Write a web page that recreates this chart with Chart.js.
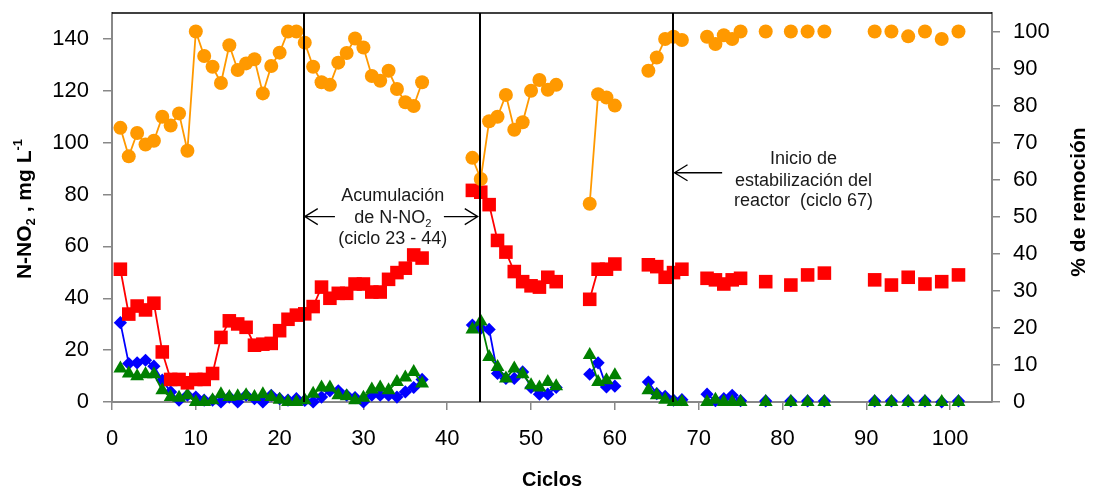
<!DOCTYPE html>
<html>
<head>
<meta charset="utf-8">
<script src="https://cdn.jsdelivr.net/npm/chart.js@4.4.1/dist/chart.umd.min.js"></script>
<style>
  html, body { margin: 0; padding: 0; background: #fff; }
  #wrap { width: 1096px; height: 492px; }
</style>
</head>
<body>
<div id="wrap"><canvas id="chart"></canvas></div>
<script>
// Ciclos con medición (los huecos cortan las líneas)
const ciclos = [
  1, 2, 3, 4, 5, 6, 7, 8, 9, 10, 11, 12, 13, 14, 15, 16, 17, 18, 19, 20,
  21, 22, 23, 24, 25, 26, 27, 28, 29, 30, 31, 32, 33, 34, 35, 36, 37,
  43, 44, 45, 46, 47, 48, 49, 50, 51, 52, 53,
  57, 58, 59, 60,
  64, 65, 66, 67, 68,
  71, 72, 73, 74, 75,
  78, 81, 83, 85, 91, 93, 95, 97, 99, 101
];

// % de remoción (eje derecho)
const remocion = [
  74.0, 66.3, 72.6, 69.5, 70.5, 77.0, 74.6, 77.9, 67.8, 100, 93.4, 90.5, 86.1, 96.3, 89.6, 91.4, 92.5, 83.3, 90.7, 94.3,
  100, 100, 97.0, 90.5, 86.3, 85.6, 91.6, 94.2, 98.1, 95.7, 88.0, 86.7, 89.4, 84.5, 80.9, 79.9, 86.3,
  65.9, 60.2, 75.8, 77.0, 82.9, 73.5, 75.5, 84.0, 86.9, 84.3, 85.6,
  53.5, 83.1, 82.2, 80.0,
  89.4, 93.0, 98.0, 98.6, 97.7,
  98.6, 96.6, 99.0, 98.0, 100,
  100, 100, 100, 100, 100, 100, 98.7, 100, 98.0, 100
];

// N-NO2, mg/L (eje izquierdo)
const cuadros = [
  51.2, 33.9, 37.0, 35.5, 38.1, 19.3, 8.7, 8.7, 7.4, 8.7, 8.7, 11.0, 24.9, 31.3, 30.1, 28.8, 21.9, 22.3, 22.6, 27.5,
  31.9, 33.5, 34.0, 36.8, 44.3, 40.0, 41.9, 41.9, 45.5, 45.5, 42.4, 42.4, 47.3, 49.9, 51.6, 56.7, 55.5,
  81.6, 80.9, 76.1, 62.3, 57.8, 50.3, 46.4, 44.8, 44.3, 48.1, 46.4,
  39.6, 51.2, 51.2, 53.2,
  52.9, 52.2, 48.1, 49.9, 51.2,
  47.7, 47.1, 45.5, 47.1, 47.7,
  46.4, 45.1, 49.0, 49.7, 47.1, 45.1, 48.1, 45.5, 46.4, 49.0
];

const rombos = [
  30.6, 14.8, 15.1, 16.1, 13.8, 8.4, 3.9, 0.7, 2.6, 1.9, 0.7, 0.7, 0, 1.9, 0, 2.6, 1.3, 0, 2.6, 1.3,
  0.7, 1.3, 0.6, 0, 1.9, 4.3, 4.3, 2.6, 1.7, 0, 2.6, 2.6, 2.6, 1.9, 3.9, 5.6, 8.7,
  29.7, 28.4, 28.0, 11.0, 9.1, 9.1, 11.6, 5.6, 3.0, 3.0, 5.6,
  10.7, 15.1, 5.8, 6.1,
  7.7, 3.2, 2.2, 0.7, 0.9,
  3.0, 0.5, 1.3, 2.6, 0.5,
  0.4, 0.4, 0.4, 0.4, 0.4, 0.4, 0.4, 0.4, 0, 0.4
];

const triangulos = [
  12.9, 11.0, 9.9, 10.7, 10.7, 4.5, 1.9, 1.6, 2.6, 0, 0, 0.7, 3.0, 1.9, 2.2, 2.6, 1.9, 3.0, 1.9, 0.9,
  0, 0, 0.7, 3.2, 5.6, 5.6, 2.6, 2.2, 0.7, 1.6, 4.8, 5.6, 4.5, 7.7, 9.4, 11.6, 7.1,
  28.0, 31.0, 17.4, 13.5, 9.1, 12.9, 10.7, 6.5, 5.6, 7.7, 6.1,
  18.1, 7.7, 8.4, 10.3,
  4.5, 2.6, 0.9, 0, 0,
  0, 0.9, 0, 0, 0,
  0, 0, 0, 0, 0, 0, 0, 0, 0, 0
];

// Ciclos marcados con línea vertical
const ciclosMarcados = [23, 44, 67];

const fuente = '"Liberation Sans", Arial, Helvetica, sans-serif';

// Serie con líneas sólo entre ciclos consecutivos
function serie(valores, eje, color, estilo, radio) {
  return {
    data: ciclos.map((c, i) => ({ x: c, y: valores[i] })),
    yAxisID: eje,
    borderColor: color,
    backgroundColor: color,
    borderWidth: 1.8,
    pointStyle: estilo,
    pointRadius: radio,
    pointHoverRadius: radio,
    pointBorderWidth: 0,
    pointBackgroundColor: color,
    segment: {
      borderColor: ctx => (ctx.p1.parsed.x - ctx.p0.parsed.x > 1 ? 'transparent' : color)
    },
    clip: false,
    tension: 0
  };
}

// Texto con subíndices / superíndices, centrado en x
function textoCompuesto(ctx, partes, x, y, size, bold) {
  const f = s => (bold ? 'bold ' : '') + s + 'px ' + fuente;
  let total = 0;
  partes.forEach(p => {
    ctx.font = f(p[1] ? size * 0.62 : size);
    p.w = ctx.measureText(p[0]).width;
    total += p.w;
  });
  let cx = x - total / 2;
  const base = y + size * 0.36;
  partes.forEach(p => {
    ctx.font = f(p[1] ? size * 0.62 : size);
    const dy = p[1] === 'sub' ? size * 0.22 : p[1] === 'sup' ? -size * 0.42 : 0;
    ctx.fillText(p[0], cx, base + dy);
    cx += p.w;
  });
}

function flecha(ctx, x0, x1, y) {
  const dir = Math.sign(x1 - x0);
  ctx.beginPath();
  ctx.moveTo(x0, y);
  ctx.lineTo(x1, y);
  ctx.moveTo(x1 - dir * 13, y - 8);
  ctx.lineTo(x1, y);
  ctx.lineTo(x1 - dir * 13, y + 8);
  ctx.stroke();
}

const anotaciones = {
  id: 'anotaciones',
  afterDatasetsDraw(chart) {
    const { ctx, chartArea: a, scales } = chart;
    const x = scales.x, y = scales.y;
    ctx.save();

    // borde superior del área de trazado
    ctx.strokeStyle = '#000';
    ctx.lineWidth = 1.5;
    ctx.beginPath();
    ctx.moveTo(a.left, a.top);
    ctx.lineTo(a.right, a.top);
    ctx.stroke();

    // líneas verticales
    ctx.lineWidth = 2;
    ciclosMarcados.forEach(c => {
      const px = Math.round(x.getPixelForValue(c)) - 1;
      ctx.beginPath();
      ctx.moveTo(px, a.top);
      ctx.lineTo(px, a.bottom);
      ctx.stroke();
    });

    // flechas
    ctx.lineWidth = 1.3;
    const yAcum = y.getPixelForValue(71.5);
    flecha(ctx, x.getPixelForValue(26.6), x.getPixelForValue(23), yAcum);
    flecha(ctx, x.getPixelForValue(39.6), x.getPixelForValue(44) - 3, yAcum);
    const yEstab = y.getPixelForValue(88.4);
    flecha(ctx, x.getPixelForValue(72.8), x.getPixelForValue(67) + 1, yEstab);

    // textos
    ctx.fillStyle = '#1a1a1a';
    ctx.textAlign = 'left';
    ctx.textBaseline = 'alphabetic';
    const cxA = x.getPixelForValue(33.5);
    textoCompuesto(ctx, [['Acumulación']], cxA, yAcum - 22, 18, false);
    textoCompuesto(ctx, [['de N-NO'], ['2', 'sub']], cxA, yAcum, 18, false);
    textoCompuesto(ctx, [['(ciclo 23 - 44)']], cxA, yAcum + 21, 18, false);

    const cxE = x.getPixelForValue(82.5);
    const yE = y.getPixelForValue(85.8);
    textoCompuesto(ctx, [['Inicio de']], cxE, yE - 21.5, 18, false);
    textoCompuesto(ctx, [['estabilización del']], cxE, yE, 18, false);
    textoCompuesto(ctx, [['reactor  (ciclo 67)']], cxE, yE + 20, 18, false);

    // títulos de los ejes verticales
    ctx.fillStyle = '#000';
    ctx.save();
    ctx.translate(23, 209);
    ctx.rotate(-Math.PI / 2);
    textoCompuesto(ctx, [['N-NO'], ['2', 'sub'], [' , mg L'], ['-1', 'sup']], 0, 0, 21, true);
    ctx.restore();

    ctx.save();
    ctx.translate(1077, 202);
    ctx.rotate(-Math.PI / 2);
    textoCompuesto(ctx, [['% de remoción']], 0, 0, 21, true);
    ctx.restore();

    ctx.restore();
  }
};

const ejeGris = '#888888';
const ticksFuente = { family: fuente, size: 22 };

// anula el margen extra que Chart.js reserva para las etiquetas extremas
function sinMargenVertical(s, ancho) {
  s.width = ancho;
  s.paddingTop = 0;
  s.paddingBottom = 0;
}

new Chart(document.getElementById('chart'), {
  type: 'line',
  data: {
    datasets: [
      serie(remocion, 'y2', '#FF9900', 'circle', 7),
      serie(cuadros, 'y', '#FF0000', 'rect', 9.6),
      serie(triangulos, 'y', '#008000', 'triangle', 8),
      serie(rombos, 'y', '#0000FF', 'rectRot', 6.6)
    ]
  },
  options: {
    responsive: true,
    maintainAspectRatio: false,
    animation: false,
    events: [],
    layout: { padding: { top: 13, left: 0, right: 0, bottom: 0 } },
    plugins: {
      legend: { display: false },
      tooltip: { enabled: false }
    },
    scales: {
      x: {
        type: 'linear',
        min: 0,
        max: 105,
        border: { color: ejeGris, width: 2 },
        grid: { drawOnChartArea: false, color: ejeGris, tickLength: 8, lineWidth: 1.5 },
        ticks: { stepSize: 10, includeBounds: false, color: '#000', font: ticksFuente, padding: 16, maxRotation: 0 },
        title: { display: true, text: 'Ciclos', color: '#000', font: { family: fuente, size: 20, weight: 'bold' }, padding: { top: 0, bottom: 0 } },
        afterFit: s => { s.height = 90; s.paddingLeft = 0; s.paddingRight = 0; }
      },
      y: {
        position: 'left',
        min: 0,
        max: 150,
        border: { color: ejeGris, width: 2 },
        grid: { drawOnChartArea: false, color: ejeGris, tickLength: 9, lineWidth: 1.5 },
        ticks: { stepSize: 20, includeBounds: false, color: '#000', font: ticksFuente, padding: 14 },
        afterFit: s => sinMargenVertical(s, 112)
      },
      y2: {
        position: 'right',
        min: 0,
        max: 105,
        border: { color: ejeGris, width: 2 },
        grid: { drawOnChartArea: false, color: ejeGris, tickLength: 8, lineWidth: 1.5 },
        ticks: { stepSize: 10, includeBounds: false, color: '#000', font: ticksFuente, padding: 13 },
        afterFit: s => sinMargenVertical(s, 104)
      }
    }
  },
  plugins: [anotaciones]
});
</script>
</body>
</html>
